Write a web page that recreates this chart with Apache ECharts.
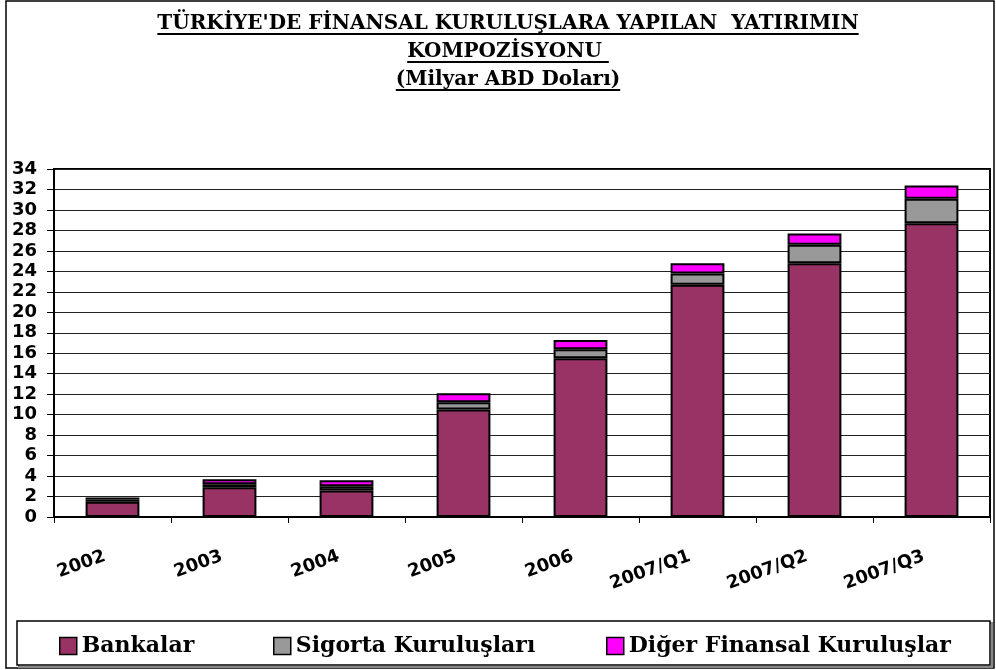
<!DOCTYPE html>
<html>
<head>
<meta charset="utf-8">
<script src="https://cdn.jsdelivr.net/npm/echarts@6.0.0/dist/echarts.min.js"></script>
<style>
  html, body { margin: 0; padding: 0; background: #fff; }
  #chart { width: 996px; height: 670px; }
</style>
</head>
<body>
<div id="chart"></div>
<script>
// kategoriler ve seriler (milyar ABD doları)
const categories = ['2002', '2003', '2004', '2005', '2006', '2007/Q1', '2007/Q2', '2007/Q3'];
const bankalar = [1.5, 2.9, 2.6, 10.5, 15.5, 22.7, 24.8, 28.7];
const sigorta = [0.2, 0.3, 0.4, 0.7, 0.9, 1.1, 1.8, 2.4];
const diger = [0.2, 0.5, 0.6, 0.9, 0.9, 1.0, 1.1, 1.3];
const seriesNames = ['Bankalar', 'Sigorta Kuruluşları', 'Diğer Finansal Kuruluşlar'];
const titleLines = ["TÜRKİYE'DE FİNANSAL KURULUŞLARA YAPILAN  YATIRIMIN", 'KOMPOZİSYONU ', '(Milyar ABD Doları)'];

const titleFont = 'bold 20px "DejaVu Serif"'
const ctx = document.createElement('canvas').getContext('2d')
ctx.font = titleFont

const titleX = 508
const titleY = [24, 52, 80]
const underlineY = [34, 62, 90]
const graphics = []
// dış çerçeve
graphics.push({
  type: 'rect',
  shape: { x: 6, y: 1, width: 988, height: 667 },
  style: { fill: null, stroke: '#000', lineWidth: 1.5 }
})
// lejant kutusu
graphics.push({
  type: 'rect',
  shape: { x: 19, y: 623, width: 973, height: 44 },
  style: { fill: null, stroke: '#888', lineWidth: 2 }
})
graphics.push({
  type: 'rect',
  shape: { x: 17, y: 621, width: 973, height: 44 },
  style: { fill: '#fff', stroke: '#000', lineWidth: 1.5 }
})
titleLines.forEach((line, i) => {
  const w = ctx.measureText(line).width
  graphics.push({
    type: 'text',
    style: {
      text: line,
      x: titleX,
      y: titleY[i],
      font: titleFont,
      fill: '#000',
      align: 'center',
      verticalAlign: 'middle'
    }
  })
  graphics.push({
    type: 'line',
    shape: { x1: titleX - w / 2, y1: underlineY[i], x2: titleX + w / 2, y2: underlineY[i] },
    style: { stroke: '#000', lineWidth: 2 }
  })
})

const colors = ['#993366', '#999999', '#ff00ff']
const seriesData = [bankalar, sigorta, diger]

const chart = echarts.init(document.getElementById('chart'))
chart.setOption({
  animation: false,
  backgroundColor: '#fff',
  color: colors,
  graphic: { elements: graphics },
  legend: seriesNames.map((name, i) => ({
    data: [name],
    left: [54, 268, 601][i],
    top: 630,
    icon: 'rect',
    itemWidth: 17,
    itemHeight: 17,
    selectedMode: false,
    itemStyle: { borderColor: '#000', borderWidth: 1.5 },
    textStyle: {
      fontFamily: 'DejaVu Serif',
      fontWeight: 'bold',
      fontSize: 22,
      color: '#000'
    }
  })),
  grid: {
    left: 54,
    top: 169,
    right: 6,
    bottom: 153,
    show: true,
    borderColor: '#000',
    borderWidth: 2
  },
  xAxis: {
    type: 'category',
    data: categories,
    boundaryGap: true,
    axisLine: { lineStyle: { color: '#000', width: 2 } },
    axisTick: { show: true, length: 6, lineStyle: { color: '#000' } },
    axisLabel: {
      interval: 0,
      rotate: 20,
      margin: 36,
      padding: [0, 8, 0, 0],
      fontFamily: 'DejaVu Sans',
      fontWeight: 'bold',
      fontSize: 18,
      color: '#000'
    }
  },
  yAxis: {
    type: 'value',
    min: 0,
    max: 34,
    interval: 2,
    axisLine: { show: true, lineStyle: { color: '#000', width: 2 } },
    axisTick: { show: true, length: 7, lineStyle: { color: '#000' } },
    splitLine: { lineStyle: { color: '#222', width: 1 } },
    axisLabel: {
      margin: 17,
      fontFamily: 'DejaVu Sans',
      fontWeight: 'bold',
      fontSize: 18,
      color: '#000'
    }
  },
  series: seriesNames.map((name, i) => ({
    name: name,
    type: 'bar',
    stack: 'toplam',
    barWidth: '46%',
    data: seriesData[i],
    itemStyle: { color: colors[i], borderColor: '#000', borderWidth: 2 }
  }))
})
</script>
</body>
</html>
